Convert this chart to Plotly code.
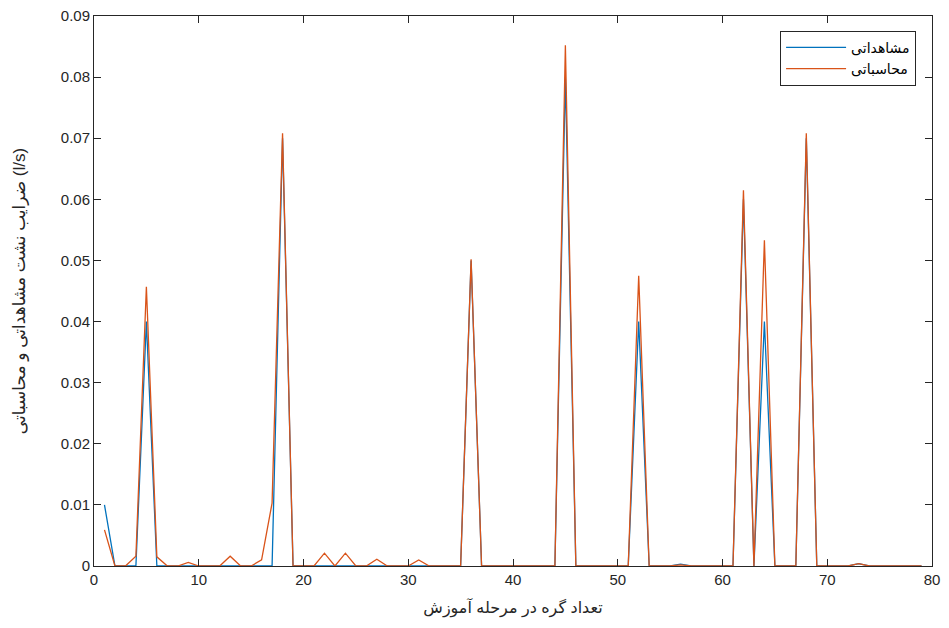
import plotly.graph_objects as go

x_nodes = list(range(1, 80))

observed = [0.0] * 79
computed = [0.0] * 79

obs_points = {1: 0.01, 5: 0.04, 18: 0.07, 36: 0.05, 45: 0.08, 52: 0.04,
              56: 0.0003, 62: 0.06, 64: 0.04, 68: 0.07, 73: 0.0004}
comp_points = {1: 0.0059, 4: 0.0016, 5: 0.0457, 6: 0.0015, 9: 0.0006, 13: 0.0016,
               16: 0.001, 17: 0.0103, 18: 0.0708, 22: 0.0021, 24: 0.0021,
               27: 0.0011, 31: 0.001, 36: 0.0502, 45: 0.0852, 52: 0.0475,
               56: 0.0002, 62: 0.0615, 64: 0.0533, 68: 0.0708, 73: 0.0004}
for k, v in obs_points.items():
    observed[k - 1] = v
for k, v in comp_points.items():
    computed[k - 1] = v

series_names = ["مشاهداتی", "محاسباتی"]
x_ticks = [0, 10, 20, 30, 40, 50, 60, 70, 80]
y_ticks = [0, 0.01, 0.02, 0.03, 0.04, 0.05, 0.06, 0.07, 0.08, 0.09]
y_tick_labels = ["0", "0.01", "0.02", "0.03", "0.04", "0.05", "0.06", "0.07", "0.08", "0.09"]
x_title = "تعداد گره در مرحله آموزش"
y_title = "ضرایب نشت مشاهداتی و محاسباتی (l/s)"

font_fam = "Liberation Sans, Arial, DejaVu Sans, sans-serif"

fig = go.Figure()
fig.add_trace(go.Scatter(x=x_nodes, y=observed, mode="lines", name=series_names[0],
                         line=dict(color="#0072BD", width=1.3)))
fig.add_trace(go.Scatter(x=x_nodes, y=computed, mode="lines", name=series_names[1],
                         line=dict(color="#D95319", width=1.3)))

axis_common = dict(showline=True, linecolor="#262626", linewidth=1, mirror="allticks",
                   ticks="inside", ticklen=7, tickcolor="#262626", showgrid=False,
                   zeroline=False, ticklabeloverflow="allow",
                   tickfont=dict(family=font_fam, size=15, color="#262626"))

fig.update_layout(
    width=949, height=628,
    margin=dict(l=94, r=17, t=16, b=62, autoexpand=False),
    paper_bgcolor="white", plot_bgcolor="white",
    showlegend=True,
    legend=dict(x=0.981, y=0.973, xanchor="right", yanchor="top",
                bordercolor="#262626", borderwidth=1, bgcolor="white",
                font=dict(family=font_fam, size=14, color="#000000"),
                tracegroupgap=0, itemwidth=60),
    xaxis=dict(range=[0, 80], tickvals=x_ticks, ticktext=[str(t) for t in x_ticks],
               automargin=False,
               title=dict(text=x_title, standoff=14,
                          font=dict(family=font_fam, size=16, color="#262626")),
               **axis_common),
    yaxis=dict(range=[0, 0.09], tickvals=y_ticks, ticktext=y_tick_labels,
               automargin=False,
               title=dict(text=y_title, standoff=30,
                          font=dict(family=font_fam, size=17, color="#262626")),
               **axis_common),
)

fig.write_html("out.html",
               config={"displayModeBar": False},
               post_script="document.body.style.margin='0';document.body.style.overflow='hidden';")
